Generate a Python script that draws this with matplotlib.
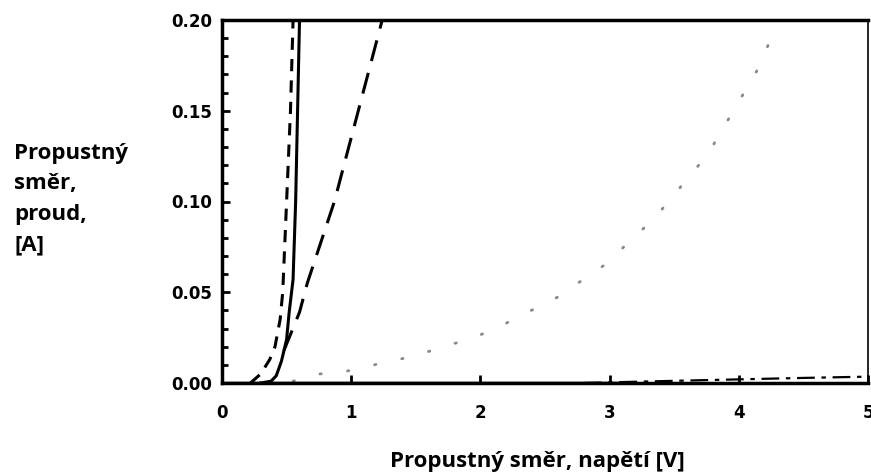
import matplotlib.pyplot as plt
import numpy as np

# curves (forward voltage [V], forward current [A])
solid_v = [0.30, 0.38, 0.42, 0.46, 0.50, 0.52, 0.55, 0.57, 0.585, 0.60]
solid_i = [0.000, 0.001, 0.004, 0.012, 0.024, 0.039, 0.057, 0.100, 0.150, 0.200]

short_dash_v = [0.22, 0.30, 0.37, 0.41, 0.45, 0.47, 0.50, 0.53, 0.55]
short_dash_i = [0.000, 0.005, 0.013, 0.020, 0.035, 0.050, 0.100, 0.150, 0.200]

long_dash_v = [0.48, 0.60, 0.66, 0.87, 1.24]
long_dash_i = [0.018, 0.039, 0.055, 0.100, 0.200]

dotted_v = [0.55, 0.76, 0.97, 1.30, 1.50, 1.71, 1.91, 2.12, 2.31, 2.59, 2.96,
            3.35, 3.76, 4.14, 4.30]
dotted_i = [0.001, 0.005, 0.0066, 0.012, 0.015, 0.020, 0.024, 0.030, 0.037, 0.047,
            0.065, 0.091, 0.126, 0.172, 0.198]

dashdot_v = [2.8, 3.5, 4.0, 4.5, 5.0]
dashdot_i = [0.000, 0.0012, 0.002, 0.0028, 0.0035]

base_v = [0.0, 3.2]
base_i = [0.0, 0.0]

lab_font = ['Open Sans', 'DejaVu Sans']

fig = plt.figure(figsize=(8.71, 4.74), dpi=100)
ax = fig.add_axes([222 / 871, 1 - 383 / 474, (868 - 222) / 871, (383 - 20) / 474])

ax.plot(solid_v, solid_i, color='black', lw=2.2)
ax.plot(short_dash_v, short_dash_i, color='black', lw=2.2, dashes=(4, 3))
ax.plot(long_dash_v, long_dash_i, color='black', lw=2.2, dashes=(7, 4))
ax.plot(dotted_v, dotted_i, color='#888888', lw=2.0, dashes=(0.5, 9.5), dash_capstyle='round')
ax.plot(dashdot_v, dashdot_i, color='black', lw=1.6, dashes=(8, 3, 2, 3))
ax.plot(base_v, base_i, color='black', lw=2.5)

ax.set_xlim(0, 5)
ax.set_ylim(0, 0.2)
ax.set_xticks([0, 1, 2, 3, 4, 5])
ax.set_yticks([0.0, 0.05, 0.10, 0.15, 0.20])
ax.set_yticklabels(['0.00', '0.05', '0.10', '0.15', '0.20'])
ax.set_yticks(np.arange(0, 0.2001, 0.01), minor=True)
ax.tick_params(axis='both', direction='in', width=2, length=6, labelsize=12)
ax.tick_params(axis='x', pad=15)
ax.tick_params(axis='y', pad=7)
ax.tick_params(axis='y', which='minor', direction='in', width=2, length=4)
for lab in ax.get_xticklabels() + ax.get_yticklabels():
    lab.set_fontweight('bold')

for s in ['left', 'top', 'bottom']:
    ax.spines[s].set_linewidth(2.5)
ax.spines['right'].set_linewidth(1.2)

fig.text(14 / 871, 1 - 199 / 474, 'Propustný\nsměr,\nproud,\n[A]', family=lab_font,
         fontweight='bold', fontsize=16, ha='left', va='center', linespacing=1.6)
fig.text(537 / 871, 1 - 461 / 474, 'Propustný směr, napětí [V]', family=lab_font,
         fontweight='bold', fontsize=16, ha='center', va='center')

fig.savefig('out.png', dpi=100)
